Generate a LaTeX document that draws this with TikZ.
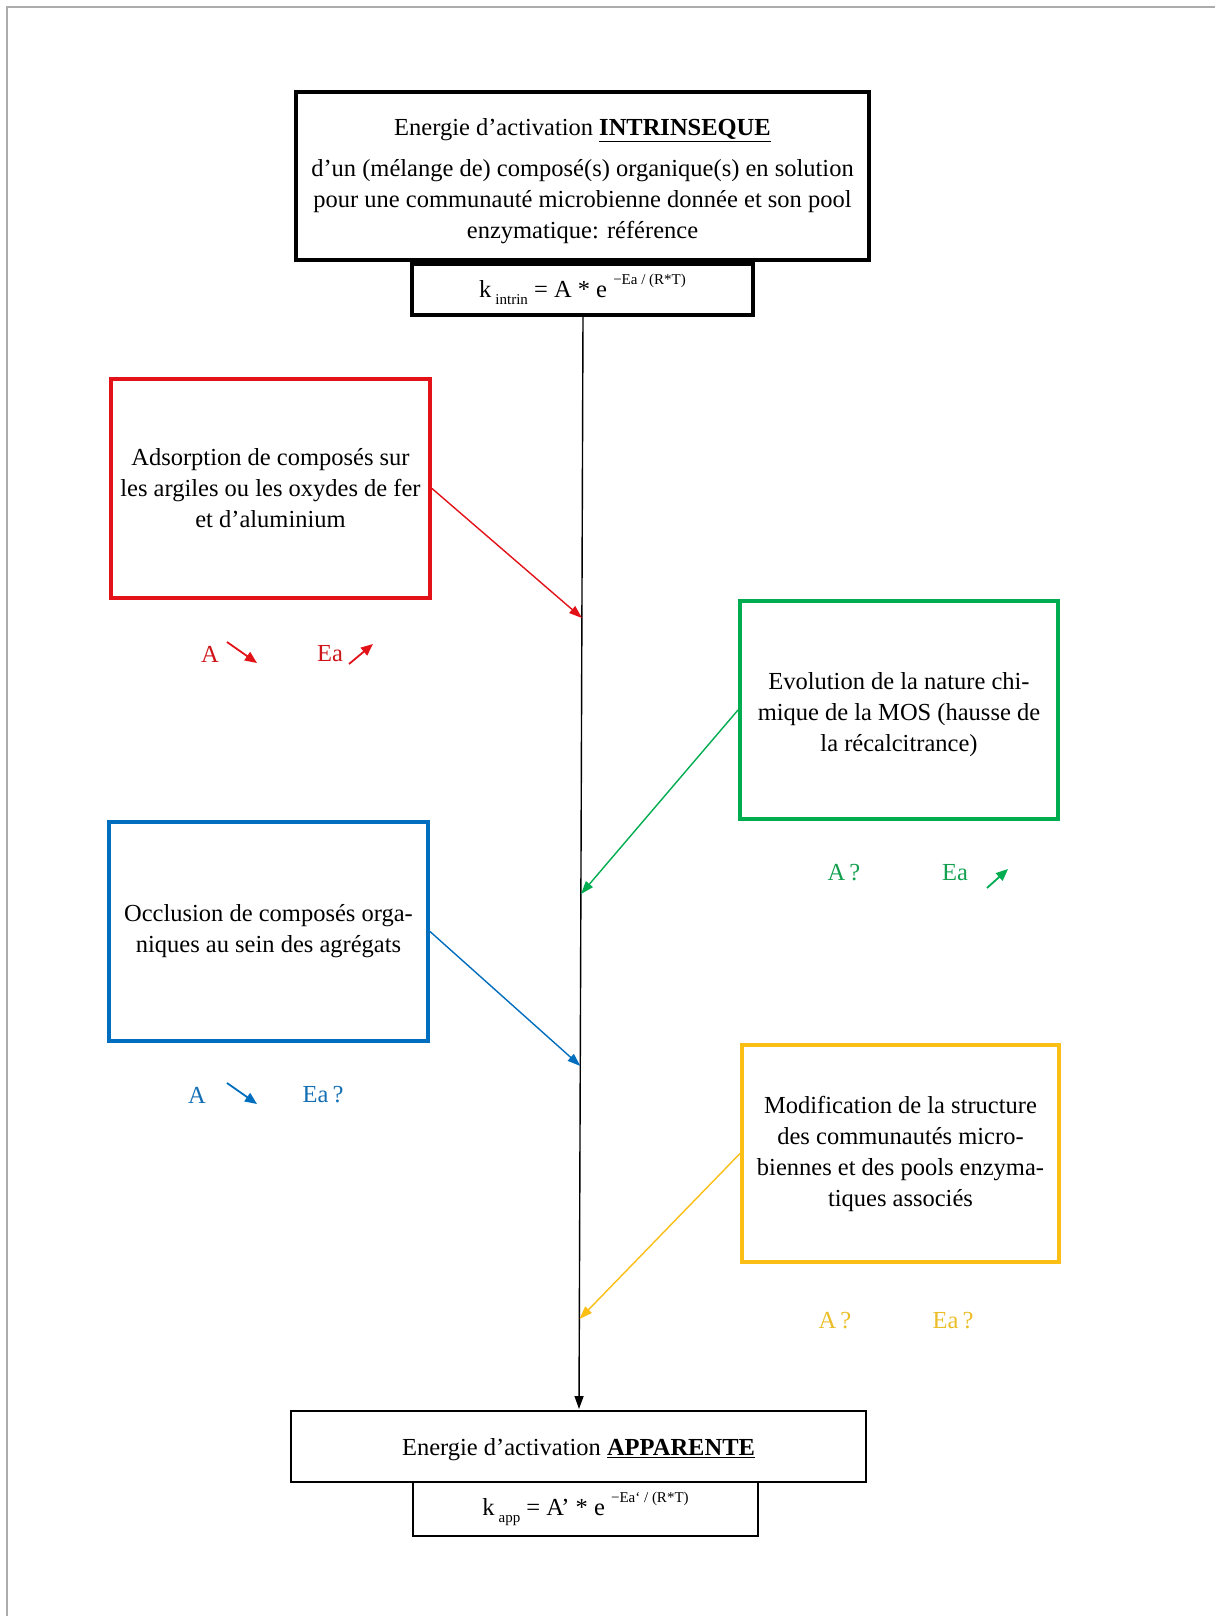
\documentclass[tikz,border=0pt]{standalone}
\usepackage{fontspec}
\setmainfont{Liberation Serif}
\usetikzlibrary{arrows.meta}
\definecolor{cred}{RGB}{226,18,24}
\definecolor{cgreen}{RGB}{0,172,80}
\definecolor{cblue}{RGB}{0,110,190}
\definecolor{cyellow}{RGB}{250,190,20}
\definecolor{tred}{RGB}{205,20,25}
\definecolor{tgreen}{RGB}{20,160,80}
\definecolor{tblue}{RGB}{20,110,180}
\definecolor{tyellow}{RGB}{235,190,40}
\newcommand{\bodyfont}{\fontsize{24.5}{31}\selectfont}
\newcommand{\supx}[1]{\raisebox{0.5em}{\fontsize{15}{15}\selectfont #1}}
\newcommand{\subx}[1]{\raisebox{-0.3em}{\fontsize{15}{15}\selectfont #1}}
\tikzset{
  box/.style={draw, rectangle, align=center, inner sep=0pt, font=\bodyfont},
  conn/.style={line width=1.4pt, -{Triangle[length=13pt,width=9pt]}},
  sarrow/.style={line width=1.8pt, -{Triangle[length=12pt,width=10pt]}},
  lab/.style={font=\bodyfont, inner sep=0pt}
}
\begin{document}
\begin{tikzpicture}[x=1pt,y=-1pt]
\useasboundingbox (0,0) rectangle (1224,1616);
\draw[gray!65, line width=1.5pt] (7,1616) -- (7,7) -- (1215,7);

% top boxes
\node[box, line width=4pt, minimum width=573pt, minimum height=168pt] (top) at (582.5,176)
  {\rule{0pt}{28pt}Energie d’activation \textbf{\underline{INTRINSEQUE}}\\[10pt]
   d’un (mélange de) composé(s) organique(s) en solution\\
   pour une communauté microbienne donnée et son pool\\
   enzymatique: référence};
\node[box, line width=3.2pt, minimum width=341pt, minimum height=51pt] (fint) at (582.5,289.5)
  {k\,\subx{intrin} = A * e \supx{−Ea / (R*T)}};

% bottom boxes
\node[box, line width=1.5pt, minimum width=575pt, minimum height=71pt] (bot) at (578.5,1446.5)
  {\rule{0pt}{24pt}Energie d’activation \textbf{\underline{APPARENTE}}};
\node[box, line width=1.5pt, minimum width=345pt, minimum height=54pt] (fapp) at (585.5,1509)
  {k\,\subx{app} = A’ * e \supx{−Ea‘ / (R*T)}};

% main line
\coordinate (ms) at (583,316);
\coordinate (me) at (579,1409);
\draw[line width=1.4pt, -{Triangle[length=13pt,width=9pt]}] (ms) -- (me);
\coordinate (mr) at (582,618);
\coordinate (mg) at (581,894);
\coordinate (mb) at (580.4,1066);
\coordinate (my) at (579.5,1319);

% side boxes
\node[box, draw=cred, line width=4pt, minimum width=319pt, minimum height=219pt] (red) at (270.5,488.5)
  {Adsorption de composés sur\\les argiles ou les oxydes de fer\\et d’aluminium};
\node[box, draw=cgreen, line width=4pt, minimum width=318pt, minimum height=218pt] (green) at (899,710)
  {\rule{0pt}{26pt}Evolution de la nature chi-\\mique de la MOS (hausse de\\la récalcitrance)};
\node[box, draw=cblue, line width=4pt, minimum width=319pt, minimum height=219pt] (blue) at (268.5,931.5)
  {Occlusion de composés orga-\\niques au sein des agrégats};
\node[box, draw=cyellow, line width=4pt, minimum width=317pt, minimum height=217pt] (yellow) at (900.5,1153.5)
  {Modification de la structure\\des communautés micro-\\biennes et des pools enzyma-\\tiques associés};

% connectors
\draw[conn, cred] (red.east) -- (mr);
\draw[conn, cgreen] (green.west) -- (mg);
\draw[conn, cblue] (blue.east) -- (mb);
\draw[conn, cyellow] (yellow.west) -- (my);

% labels red
\node[lab, text=tred] (rA) at (210,654) {A};
\node[lab, text=tred] (rE) at (330,654) {Ea};
\draw[sarrow, cred] (227,642) -- (257,663);
\draw[sarrow, cred] (349,664) -- (373,644);

% labels green
\node[lab, text=tgreen] (gA) at (844,873) {A\,?};
\node[lab, text=tgreen] (gE) at (955,873) {Ea};
\draw[sarrow, cgreen] (987,888) -- (1008,869);

% labels blue
\node[lab, text=tblue] (bA) at (197,1095) {A};
\node[lab, text=tblue] (bE) at (323,1095) {Ea\,?};
\draw[sarrow, cblue] (227,1083) -- (257,1104);

% labels yellow
\node[lab, text=tyellow] (yA) at (835,1321) {A\,?};
\node[lab, text=tyellow] (yE) at (953,1321) {Ea\,?};
\end{tikzpicture}
\end{document}
